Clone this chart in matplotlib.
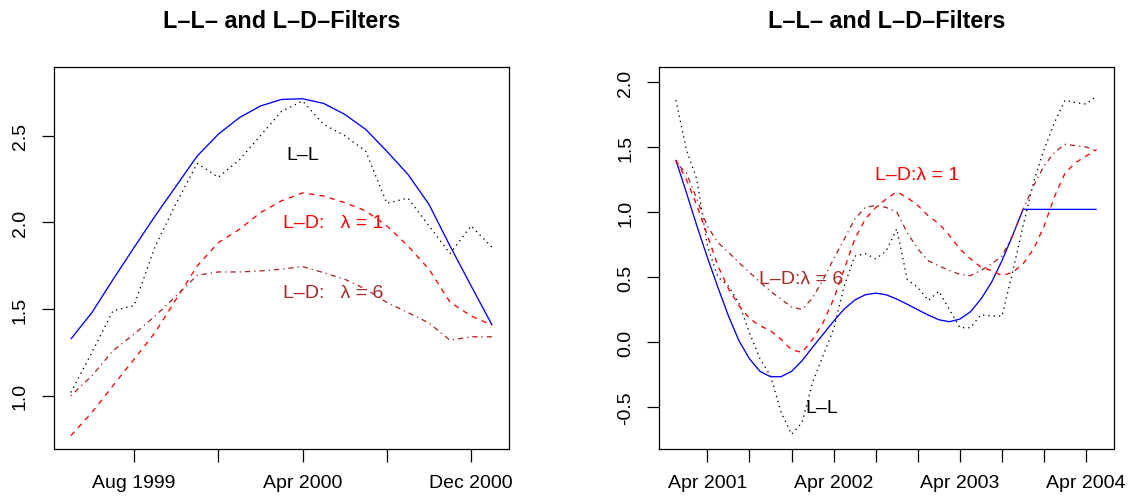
import matplotlib
matplotlib.use("Agg")
import matplotlib.pyplot as plt
import numpy as np

plt.rcParams['font.family'] = ['Liberation Sans', 'DejaVu Sans']

# ---------------- data: left panel (monthly, May 1999 - Jan 2001) ----------------
left_start = 1999 + 4 / 12
left_ll = [1.327, 1.48, 1.67, 1.855, 2.037, 2.21, 2.383, 2.508, 2.604, 2.671, 2.709,
           2.713, 2.686, 2.623, 2.536, 2.41, 2.277, 2.104, 1.864, 1.634, 1.407]
left_raw = [1.019, 1.25, 1.49, 1.52, 1.86, 2.11, 2.34, 2.26, 2.36, 2.50, 2.64,
            2.70, 2.565, 2.50, 2.41, 2.11, 2.14, 1.98, 1.82, 1.98, 1.855]
left_ld1 = [0.77, 0.904, 1.058, 1.211, 1.365, 1.557, 1.749, 1.883, 1.96, 2.056, 2.124,
            2.17, 2.152, 2.114, 2.066, 1.98, 1.864, 1.73, 1.54, 1.46, 1.407]
left_ld6 = [1.0, 1.115, 1.26, 1.355, 1.46, 1.576, 1.695, 1.714, 1.714, 1.72, 1.73,
            1.745, 1.71, 1.672, 1.615, 1.538, 1.48, 1.42, 1.32, 1.34, 1.34]
left_ticks = [1999 + 7 / 12, 1999 + 11 / 12, 2000 + 3 / 12, 2000 + 7 / 12, 2000 + 11 / 12]
left_ticklabels = ["Aug 1999", "", "Apr 2000", "", "Dec 2000"]
left_yticks = [1.0, 1.5, 2.0, 2.5]

# ---------------- data: right panel (monthly, Jan 2001 - May 2004) ----------------
right_start = 2001.0
right_ll = [1.40, 1.15, 0.893, 0.65, 0.42, 0.20, 0.01, -0.13, -0.226, -0.267, -0.267,
            -0.226, -0.144, -0.04, 0.06, 0.16, 0.253, 0.322, 0.363, 0.376, 0.363,
            0.33, 0.29, 0.248, 0.207, 0.171, 0.156, 0.176, 0.232, 0.33, 0.458,
            0.625, 0.817, 1.02, 1.02, 1.02, 1.02, 1.02, 1.02, 1.02, 1.02]
right_raw = [1.86, 1.48, 1.25, 0.74, 0.50, 0.43, 0.30, 0.07, -0.13, -0.26, -0.54,
             -0.71, -0.62, -0.31, -0.105, 0.10, 0.43, 0.66, 0.68, 0.64, 0.70,
             0.87, 0.48, 0.42, 0.32, 0.39, 0.25, 0.11, 0.11, 0.21, 0.20,
             0.20, 0.535, 0.89, 1.23, 1.48, 1.69, 1.86, 1.84, 1.83, 1.89]
right_ld1 = [1.40, 1.25, 1.05, 0.82, 0.585, 0.41, 0.28, 0.18, 0.125, 0.087, 0.02,
             -0.06, -0.08, 0.02, 0.15, 0.33, 0.56, 0.79, 0.945, 1.035, 1.10,
             1.155, 1.11, 1.05, 0.97, 0.91, 0.82, 0.715, 0.64, 0.575, 0.55,
             0.51, 0.535, 0.60, 0.715, 0.89, 1.12, 1.30, 1.38, 1.43, 1.48]
right_ld6 = [1.38, 1.30, 1.10, 0.89, 0.765, 0.69, 0.61, 0.535, 0.46, 0.39, 0.33,
             0.27, 0.25, 0.34, 0.48, 0.64, 0.79, 0.945, 1.035, 1.05, 1.035,
             1.0, 0.84, 0.715, 0.625, 0.585, 0.55, 0.52, 0.51, 0.55, 0.60,
             0.66, 0.82, 1.02, 1.20, 1.355, 1.46, 1.52, 1.51, 1.50, 1.47]
right_ticks = [2001 + 3 / 12 + k * 4 / 12 for k in range(10)]
right_ticklabels = ["Apr 2001", "", "", "Apr 2002", "", "", "Apr 2003", "", "", "Apr 2004"]
right_yticks = [-0.5, 0.0, 0.5, 1.0, 1.5, 2.0]

title = "L\u2013L\u2013 and L\u2013D\u2013Filters"

FS = 14
LW = 0.95
BLUE, RED, BROWN = "#0000FF", "#FF0000", "#A52A2A"

fig = plt.figure(figsize=(11.33, 5.02), dpi=100)
W, H = 1133, 502
axL = fig.add_axes([54 / W, 1 - 450 / H, (509 - 54) / W, (450 - 68) / H])
axR = fig.add_axes([659 / W, 1 - 450 / H, (1113.5 - 659) / W, (450 - 68) / H])


def draw(ax, start, ll, raw, ld1, ld6, ticks, ticklabels, yticks, ylim):
    n = len(ll)
    x = start + np.arange(n) / 12
    ax.plot(x, ll, color=BLUE, lw=LW, solid_capstyle='butt')
    ax.plot(x, raw, color='black', lw=LW, linestyle=(0, (1, 3)))
    ax.plot(x, ld1, color=RED, lw=LW, linestyle=(0, (4, 4)))
    ax.plot(x, ld6, color=BROWN, lw=LW, linestyle=(0, (1, 3, 4, 3)))
    ext = 0.04 * (x[-1] - x[0])
    ax.set_xlim(x[0] - ext, x[-1] + ext)
    ax.set_ylim(*ylim)
    ax.set_xticks(ticks)
    ax.set_xticklabels(ticklabels, fontsize=FS)
    ax.set_yticks(yticks)
    ax.set_yticklabels([f"{v:.1f}" for v in yticks], fontsize=FS, rotation=90, va='center')
    ax.tick_params(direction='out', length=9, width=0.9, pad=9, colors='black')
    for s in ax.spines.values():
        s.set_linewidth(0.9)
        s.set_color('black')
    ax.set_title(title, fontsize=16.8, fontweight='bold', pad=29)


draw(axL, left_start, left_ll, left_raw, left_ld1, left_ld6,
     left_ticks, left_ticklabels, left_yticks, (0.693, 2.896))
draw(axR, right_start, right_ll, right_raw, right_ld1, right_ld6,
     right_ticks, right_ticklabels, right_yticks, (-0.823, 2.115))

# annotations (positions in the panels' own time/value units)
axL.text(left_start + 11 / 12, 2.392, "L\u2013L", color='black', fontsize=FS, ha='center', va='center')
axL.text(left_start + 12.46 / 12, 2.0, "L\u2013D:   \u03bb = 1", color=RED, fontsize=FS, ha='center', va='center')
axL.text(left_start + 12.46 / 12, 1.593, "L\u2013D:   \u03bb = 6", color=BROWN, fontsize=FS, ha='center', va='center')

axR.text(right_start + 22.9 / 12, 1.29, "L\u2013D:\u03bb = 1", color=RED, fontsize=FS, ha='center', va='center')
axR.text(right_start + 11.9 / 12, 0.49, "L\u2013D:\u03bb = 6", color=BROWN, fontsize=FS, ha='center', va='center')
axR.text(right_start + 13.9 / 12, -0.50, "L\u2013L", color='black', fontsize=FS, ha='center', va='center')

fig.savefig("out.png", dpi=100)
